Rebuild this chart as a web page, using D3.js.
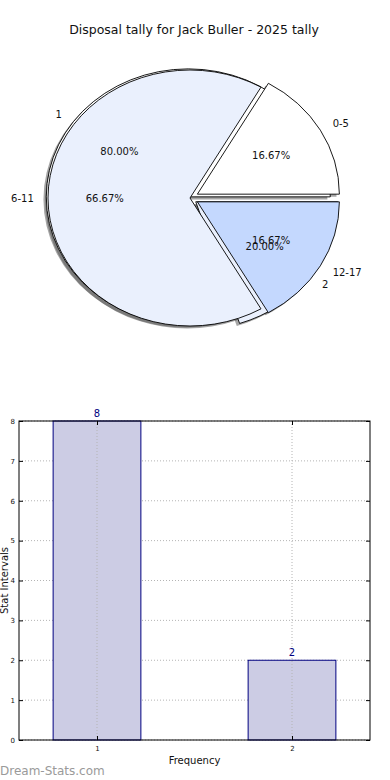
<!DOCTYPE html>
<html lang="en">
<head>
<meta charset="UTF-8">
<script src="https://d3js.org/d3.v7.min.js"></script>
<title>Disposal tally</title>
<style>
  body { margin: 0; background: #fff; }
  svg text { font-family: 'DejaVu Sans', sans-serif; }
</style>
</head>
<body>
<svg width="390" height="780"></svg>
<script>
// pie data: disposal ranges and their frequencies
const rangeLabels = ['0-5', '6-11', '12-17'];
const rangeCounts = [1, 4, 1];
const rangeExplode = [0.06, 0, 0.06];
const freqLabels = ['1', '2'];
const freqCounts = [8, 2];
const freqExplode = [0.015, 0.05];
const sliceColors = ['#ffffff', '#eaf0fd', '#c4d8fe'];

// bar data
const barCategories = [1, 2];
const barValues = [8, 2];
const yTicks = [0, 1, 2, 3, 4, 5, 6, 7, 8];

const svg = d3.select('svg');

svg.append('text')
    .attr('x', 194).attr('y', 34)
    .attr('text-anchor', 'middle')
    .attr('font-size', 12.5)
    .attr('fill', '#111')
    .text('Disposal tally for Jack Buller - 2025 tally');

// ---- pies (elliptical, matplotlib style: counter-clockwise from 3 o'clock)
const cx = 190, cy = 198, rx = 142, ry = 128;
const pie = d3.pie().sort(null)
    .startAngle(Math.PI / 2)
    .endAngle(Math.PI / 2 - 2 * Math.PI);
const arc = d3.arc().innerRadius(0).outerRadius(1);
if (arc.digits) arc.digits(6);

function slices(labels, counts, explode) {
    const total = d3.sum(counts);
    return pie(counts).map((d, i) => {
        const mid = (d.startAngle + d.endAngle) / 2;
        const sx = Math.sin(mid), sy = -Math.cos(mid);
        return {
            arc: d, label: labels[i], color: sliceColors[i],
            pct: (d.value / total * 100).toFixed(2) + '%',
            sx: sx, sy: sy,
            ox: cx + sx * explode[i] * rx,
            oy: cy + sy * explode[i] * ry
        };
    });
}

const freqSlices = slices(freqLabels, freqCounts, freqExplode);
const rangeSlices = slices(rangeLabels, rangeCounts, rangeExplode);
const allSlices = freqSlices.concat(rangeSlices);

// shadows under everything
svg.append('g').selectAll('path')
    .data(allSlices)
    .enter().append('path')
    .attr('transform', d => `translate(${d.ox - 0.02 * rx},${d.oy + 0.02 * ry}) scale(${rx},${ry})`)
    .attr('d', d => arc(d.arc))
    .attr('fill', '#4d4d4d')
    .attr('opacity', 0.5);

function drawWedges(data) {
    svg.append('g').selectAll('path')
        .data(data)
        .enter().append('path')
        .attr('transform', d => `translate(${d.ox},${d.oy}) scale(${rx},${ry})`)
        .attr('d', d => arc(d.arc))
        .attr('fill', d => d.color)
        .attr('stroke', '#000')
        .attr('stroke-width', 0.9)
        .attr('stroke-linejoin', 'miter')
        .attr('vector-effect', 'non-scaling-stroke');
}
drawWedges(freqSlices);
drawWedges(rangeSlices);

const pieText = svg.append('g').attr('font-size', 10).attr('fill', '#111');
allSlices.forEach(d => {
    pieText.append('text')
        .attr('x', d.ox + 1.1 * rx * d.sx)
        .attr('y', d.oy + 1.1 * ry * d.sy)
        .attr('dy', '0.35em')
        .attr('text-anchor', d.sx > 0 ? 'start' : 'end')
        .text(d.label);
    pieText.append('text')
        .attr('x', d.ox + 0.6 * rx * d.sx)
        .attr('y', d.oy + 0.6 * ry * d.sy)
        .attr('dy', '0.35em')
        .attr('text-anchor', 'middle')
        .text(d.pct);
});

// ---- bar chart
const plotLeft = 19, plotRight = 370, plotTop = 421, plotBottom = 740;
const x = d3.scaleLinear().domain([0.6, 2.4]).range([plotLeft, plotRight]);
const y = d3.scaleLinear().domain([0, 8]).range([plotBottom, plotTop]);
const barW = 0.45;

const g = svg.append('g');

g.append('g').selectAll('line')
    .data(yTicks)
    .enter().append('line')
    .attr('x1', plotLeft).attr('x2', plotRight)
    .attr('y1', d => y(d)).attr('y2', d => y(d))
    .attr('stroke', '#b4b4b4')
    .attr('stroke-dasharray', '1,2');

g.selectAll('.bar')
    .data(barValues)
    .enter().append('rect')
    .attr('class', 'bar')
    .attr('x', (d, i) => x(barCategories[i] - barW / 2))
    .attr('y', d => y(d))
    .attr('width', (d, i) => x(barCategories[i] + barW / 2) - x(barCategories[i] - barW / 2))
    .attr('height', d => plotBottom - y(d))
    .attr('fill', '#cccce4')
    .attr('stroke', '#000080')
    .attr('stroke-width', 1);

g.append('g').selectAll('line')
    .data(barCategories)
    .enter().append('line')
    .attr('x1', d => x(d)).attr('x2', d => x(d))
    .attr('y1', plotTop).attr('y2', plotBottom)
    .attr('stroke', '#b4b4b4')
    .attr('stroke-dasharray', '1,2');

g.selectAll('.val')
    .data(barValues)
    .enter().append('text')
    .attr('class', 'val')
    .attr('x', (d, i) => x(barCategories[i]))
    .attr('y', d => y(d) - 4)
    .attr('text-anchor', 'middle')
    .attr('font-size', 10)
    .attr('fill', '#000080')
    .text(d => d);

function styleAxis(sel, labels) {
    sel.select('.domain').remove();
    sel.selectAll('.tick line').attr('stroke', '#000');
    sel.selectAll('.tick text')
        .attr('font-family', 'DejaVu Sans, sans-serif')
        .attr('font-size', 7)
        .attr('fill', '#111');
    if (!labels) sel.selectAll('.tick text').remove();
}

g.append('g').attr('transform', `translate(${plotLeft},0)`)
    .call(d3.axisLeft(y).tickValues(yTicks).tickSize(-4).tickPadding(4).tickFormat(d3.format('d')))
    .call(s => styleAxis(s, true));
g.append('g').attr('transform', `translate(${plotRight},0)`)
    .call(d3.axisRight(y).tickValues(yTicks).tickSize(-4))
    .call(s => styleAxis(s, false));
g.append('g').attr('transform', `translate(0,${plotBottom})`)
    .call(d3.axisBottom(x).tickValues(barCategories).tickSize(-4).tickPadding(6).tickFormat(d3.format('d')))
    .call(s => styleAxis(s, true));
g.append('g').attr('transform', `translate(0,${plotTop})`)
    .call(d3.axisTop(x).tickValues(barCategories).tickSize(-4))
    .call(s => styleAxis(s, false));

g.append('rect')
    .attr('x', plotLeft).attr('y', plotTop)
    .attr('width', plotRight - plotLeft).attr('height', plotBottom - plotTop)
    .attr('fill', 'none')
    .attr('stroke', '#000')
    .attr('stroke-width', 1);

svg.append('text')
    .attr('transform', `translate(8,${(plotTop + plotBottom) / 2}) rotate(-90)`)
    .attr('text-anchor', 'middle')
    .attr('font-size', 10)
    .attr('fill', '#111')
    .text('Stat Intervals');

svg.append('text')
    .attr('x', (plotLeft + plotRight) / 2).attr('y', 764)
    .attr('text-anchor', 'middle')
    .attr('font-size', 10)
    .attr('fill', '#111')
    .text('Frequency');

svg.append('text')
    .attr('x', 0).attr('y', 775)
    .attr('font-size', 12)
    .attr('fill', '#9a9a9a')
    .text('Dream-Stats.com');
</script>
</body>
</html>
